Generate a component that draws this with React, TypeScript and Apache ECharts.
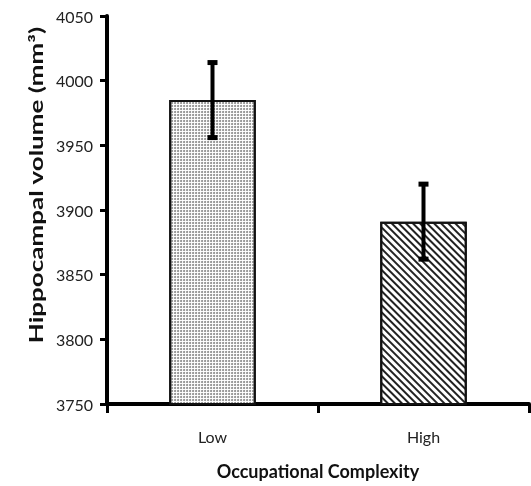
import React, { useEffect, useRef } from "react";
import * as echarts from "echarts";

const categories = ["Low", "High"];
const means = [3985, 3891];
const errLow = [3956, 3862];
const errHigh = [4014, 3920];
const yTicks = [3750, 3800, 3850, 3900, 3950, 4000, 4050];

export default function App() {
  const ref = useRef<HTMLDivElement>(null);
  useEffect(() => {
    document.body.style.margin = "0";
    document.body.style.overflow = "hidden";
    const chart = echarts.init(ref.current!, null, { renderer: "svg" });
    const font = "Lato, 'Open Sans', sans-serif";
    const decals = [
      {
        symbol: "circle",
        symbolSize: 1,
        dashArrayX: [[2, 1]],
        dashArrayY: [2, 1],
        color: "#8c8c8c",
        backgroundColor: "#f2f2f2",
      },
      {
        symbol: "rect",
        symbolSize: 1,
        dashArrayX: [1, 0],
        dashArrayY: [2, 2.5],
        rotation: Math.PI / 4,
        color: "#222",
        backgroundColor: "#ffffff",
      },
    ];
    chart.setOption({
      animation: false,
      grid: { left: 107, right: 2, top: 16, bottom: 82, containLabel: false },
      xAxis: {
        type: "category",
        data: categories,
        axisLine: { lineStyle: { color: "#000", width: 4 } },
        axisTick: { show: true, length: 9, lineStyle: { color: "#000", width: 3 } },
        axisLabel: { color: "#222", fontFamily: font, fontSize: 16, margin: 24 },
        name: "Occupational Complexity",
        nameLocation: "middle",
        nameGap: 58,
        nameTextStyle: { color: "#111", fontFamily: font, fontSize: 18, fontWeight: "bold" },
      },
      yAxis: {
        type: "value",
        min: yTicks[0],
        max: yTicks[yTicks.length - 1],
        interval: 50,
        splitLine: { show: false },
        axisLine: { show: true, lineStyle: { color: "#000", width: 4 } },
        axisTick: { show: true, length: 7, lineStyle: { color: "#000", width: 3 } },
        axisLabel: { color: "#222", fontFamily: font, fontSize: 16, margin: 14, formatter: (v: number) => String(v) },
      },
      graphic: [
        {
          type: "text",
          x: 36,
          y: 185,
          rotation: Math.PI / 2,
          scaleX: 1.3,
          scaleY: 0.9,
          style: {
            text: "Hippocampal volume (mm³)",
            fontFamily: font,
            fontSize: 20,
            fontWeight: "bold",
            fill: "#111",
            align: "center",
            verticalAlign: "middle",
          },
        },
      ],
      series: [
        {
          type: "bar",
          barWidth: "41%",
          data: means.map((v, i) => ({
            value: v,
            itemStyle: { color: "#ffffff", decal: decals[i], borderColor: "#111", borderWidth: 2 },
          })),
        },
        {
          type: "custom",
          data: categories.map((_, i) => [i, errLow[i], errHigh[i]]),
          renderItem: (params: any, api: any) => {
            const x = api.value(0);
            const lo = api.coord([x, api.value(1)]);
            const hi = api.coord([x, api.value(2)]);
            const cap = 5;
            const style = { stroke: "#000", lineWidth: 4 };
            return {
              type: "group",
              children: [
                { type: "line", shape: { x1: lo[0], y1: lo[1], x2: hi[0], y2: hi[1] }, style },
                { type: "line", shape: { x1: lo[0] - cap, y1: lo[1], x2: lo[0] + cap, y2: lo[1] }, style: { stroke: "#000", lineWidth: 5 } },
                { type: "line", shape: { x1: hi[0] - cap, y1: hi[1], x2: hi[0] + cap, y2: hi[1] }, style: { stroke: "#000", lineWidth: 5 } },
              ],
            };
          },
          z: 5,
        },
      ],
    });
    return () => chart.dispose();
  }, []);
  return <div ref={ref} style={{ position: "fixed", left: 0, top: 0, width: 531, height: 486 }} />;
}
